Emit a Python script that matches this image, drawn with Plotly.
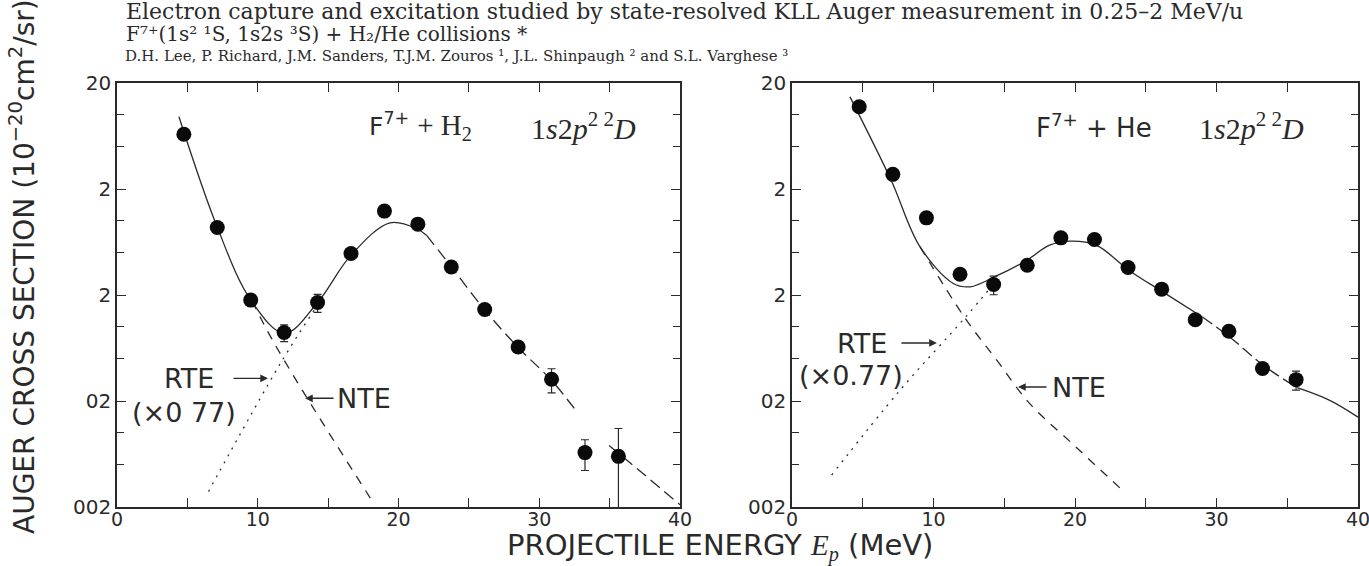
import math
import plotly.graph_objects as go

W, H = 1369, 566

# ---------------- data ----------------
# projectile energies (MeV): 0.25 ... 1.875 MeV/u for 19F
ENERGY = [4.75, 7.125, 9.5, 11.875, 14.25, 16.625, 19.0, 21.375,
          23.75, 26.125, 28.5, 30.875, 33.25, 35.625]

# F7+ + H2, 1s2p2 2D Auger cross sections (10^-20 cm^2/sr)
SIGMA_H2 = [6.56, 0.868, 0.179, 0.0885, 0.170, 0.493, 1.237, 0.932,
            0.368, 0.146, 0.0647, 0.0321, 0.00652, 0.00601]
ERR_H2 = [0, 0, 0, 0.016, 0.033, 0, 0, 0, 0, 0, 0, 0.0082, 0.0021, 0.005]

# F7+ + He, 1s2p2 2D Auger cross sections
SIGMA_HE = [11.95, 2.75, 1.069, 0.314, 0.251, 0.382, 0.692, 0.668,
            0.364, 0.227, 0.117, 0.091, 0.0405, 0.0318]
ERR_HE = [0, 0, 0, 0, 0.05, 0, 0, 0, 0, 0, 0, 0, 0, 0.0065]

# theory curves (knots), H2 target
H2_TOT_SOLID_E = [4.4, 7.125, 9.5, 11.9, 14.25, 16.6, 19.4, 21.4, 22.0]
H2_TOT_SOLID_V = [9.6, 0.87, 0.18, 0.087, 0.17, 0.47, 0.96, 0.83, 0.73]
H2_TOT_DASH1_E = [22.0, 23.75, 26.1, 28.5, 30.9, 32.75]
H2_TOT_DASH1_V = [0.73, 0.37, 0.146, 0.064, 0.031, 0.0153]
H2_TOT_DASH2_E = [34.96, 37.5, 40.0]
H2_TOT_DASH2_V = [0.0076, 0.0040, 0.0021]
H2_NTE_E = [9.6, 11.0, 13.4, 18.3]
H2_NTE_V = [0.175, 0.077, 0.0225, 0.0021]
H2_RTE_E = [6.5, 11.6, 14.3]
H2_RTE_V = [0.0028, 0.045, 0.165]

# theory curves (knots), He target
HE_TOT_SOLID1_E = [4.1, 7.0, 9.05, 11.4, 12.6, 14.3, 16.6, 18.2, 19.65, 21.5, 23.8, 26.2, 29.0]
HE_TOT_SOLID1_V = [14.8, 2.43, 0.569, 0.257, 0.239, 0.296, 0.426, 0.59, 0.644, 0.59, 0.343, 0.214, 0.124]
HE_TOT_DASH_E = [29.0, 30.95, 33.3, 35.7]
HE_TOT_DASH_V = [0.124, 0.080, 0.0435, 0.0267]
HE_TOT_SOLID2_E = [35.7, 38.0, 40.0]
HE_TOT_SOLID2_V = [0.0267, 0.0203, 0.0141]
HE_NTE_E = [9.05, 12.23, 14.5, 16.8, 20.0, 23.2]
HE_NTE_V = [0.57, 0.121, 0.048, 0.0189, 0.0075, 0.003]
HE_RTE_E = [2.8, 7.6, 12.2, 14.2]
HE_RTE_V = [0.004, 0.025, 0.121, 0.25]

# axis ticks
Y_TICKS = [0.002, 0.02, 0.2, 2, 20]
Y_TICK_TEXT = ["002", "02", "2", "2", "20"]
Y_MINOR = [0.005, 0.01, 0.05, 0.1, 0.5, 1, 5, 10]
X_TICKS = [0, 10, 20, 30, 40]
X_MINOR = [5, 15, 25, 35]

INK = "#2a2a2a"
SANS = "DejaVu Sans"
SERIF = "Liberation Serif"
WIDE_SERIF = "DejaVu Serif"

fig = go.Figure()


def curve(x, y, xa, ya, dash="solid", width=1.3, shape="spline"):
    fig.add_trace(go.Scatter(
        x=x, y=y, xaxis=xa, yaxis=ya, mode="lines",
        line=dict(color=INK, width=width, dash=dash, shape=shape),
        hoverinfo="skip", showlegend=False))


def points(x, y, err, xa, ya):
    fig.add_trace(go.Scatter(
        x=x, y=y, xaxis=xa, yaxis=ya, mode="markers",
        marker=dict(color="#0a0a0a", size=15, line=dict(width=0)),
        error_y=dict(type="data", array=err, visible=True,
                     color=INK, thickness=1.2, width=4),
        showlegend=False))


# H2 panel
curve(H2_TOT_SOLID_E, H2_TOT_SOLID_V, "x", "y")
curve(H2_TOT_DASH1_E, H2_TOT_DASH1_V, "x", "y", dash="12px,6px")
curve(H2_TOT_DASH2_E, H2_TOT_DASH2_V, "x", "y", dash="12px,6px")
curve(H2_NTE_E, H2_NTE_V, "x", "y", dash="9px,8px")
curve(H2_RTE_E, H2_RTE_V, "x", "y", dash="2px,6px")
points(ENERGY, SIGMA_H2, ERR_H2, "x", "y")

# He panel
curve(HE_TOT_SOLID1_E, HE_TOT_SOLID1_V, "x2", "y2")
curve(HE_TOT_DASH_E, HE_TOT_DASH_V, "x2", "y2", dash="12px,5px")
curve(HE_TOT_SOLID2_E, HE_TOT_SOLID2_V, "x2", "y2")
curve(HE_NTE_E, HE_NTE_V, "x2", "y2", dash="9px,8px")
curve(HE_RTE_E, HE_RTE_V, "x2", "y2", dash="2px,6px")
points(ENERGY, SIGMA_HE, ERR_HE, "x2", "y2")

ydom = [1 - 507 / H, 1 - 83 / H]
xdom1 = [117 / W, 680 / W]
xdom2 = [792 / W, 1358 / W]

common_x = dict(range=[0, 40], tickvals=X_TICKS, ticks="inside", ticklen=9,
                tickwidth=1.3, tickcolor=INK, showline=True, linecolor=INK,
                linewidth=1.5, mirror="ticks", showgrid=False, zeroline=False,
                automargin=False, ticklabeloverflow="allow",
                ticklabelstandoff=-6,
                tickfont=dict(family=SANS, size=19, color=INK),
                minor=dict(tickvals=X_MINOR, ticks="inside", ticklen=9,
                           tickwidth=1.3, tickcolor=INK, showgrid=False))
common_y = dict(type="log", range=[-2.69897, 1.30103], tickvals=Y_TICKS,
                ticktext=Y_TICK_TEXT, ticks="inside", ticklen=9, tickwidth=1.3,
                tickcolor=INK, showline=True, linecolor=INK, linewidth=1.5,
                mirror="ticks", showgrid=False, zeroline=False,
                automargin=False, ticklabeloverflow="allow",
                tickfont=dict(family=SANS, size=20, color=INK),
                minor=dict(tickvals=Y_MINOR, ticks="inside", ticklen=7,
                           tickwidth=1.3, tickcolor=INK, showgrid=False))

fig.update_layout(
    width=W, height=H, margin=dict(l=0, r=0, t=0, b=0, pad=0, autoexpand=False),
    paper_bgcolor="white", plot_bgcolor="white", showlegend=False,
    xaxis=dict(domain=xdom1, anchor="y", **common_x),
    yaxis=dict(domain=ydom, anchor="x", **common_y),
    xaxis2=dict(domain=xdom2, anchor="y2", **common_x),
    yaxis2=dict(domain=ydom, anchor="x2", **common_y),
)


def text(s, x, y, size, family=SANS, xanchor="left", angle=0):
    fig.add_annotation(text=s, x=x / W, y=1 - y / H, xref="paper", yref="paper",
                       xanchor=xanchor, yanchor="middle", showarrow=False,
                       textangle=angle, borderpad=0,
                       font=dict(family=family, size=size, color=INK))


def arrow(e, v, dx, xa, ya):
    # arrow head sits at (e, v); annotation y on a log axis is given in decades
    fig.add_annotation(text="", x=e, y=math.log10(v), xref=xa, yref=ya,
                       ax=dx, ay=0, axref="pixel", ayref="pixel",
                       showarrow=True, arrowhead=2, arrowsize=1.1,
                       arrowwidth=1.4, arrowcolor=INK, standoff=0)


# header lines (unicode super/subscripts keep the line boxes compact)
text("Electron capture and excitation studied by state-resolved KLL Auger "
     "measurement in 0.25–2 MeV/u", 125, 11, 22, WIDE_SERIF)
text("F⁷⁺(1s² ¹S, 1s2s ³S) + H₂/He collisions *", 125, 34, 20, WIDE_SERIF)
text("D.H. Lee, P. Richard, J.M. Sanders, T.J.M. Zouros ¹, "
     "J.L. Shinpaugh ² and S.L. Varghese ³", 124, 56, 15, WIDE_SERIF)

# axis titles
text("AUGER CROSS SECTION (10<sup>−20</sup>cm<sup>2</sup>/sr)", 22, 267, 28,
     xanchor="center", angle=-90)
text("PROJECTILE ENERGY <span style='font-family:Liberation Serif'><i>E<sub>p</sub></i></span> (MeV)",
     720, 547, 29, xanchor="center")

# panel labels
text("F<sup>7+</sup> <span style='font-family:Liberation Serif;font-size:29px'>+ H<sub>2</sub></span>",
     368, 126, 25)
text("1<i>s</i>2<i>p</i><sup>2 2</sup><i>D</i>", 530, 126, 30, SERIF)
text("F<sup>7+</sup> + He", 1035, 126, 26)
text("1<i>s</i>2<i>p</i><sup>2 2</sup><i>D</i>", 1198, 126, 30, SERIF)

# RTE / NTE labels with arrows (H2)
text("RTE", 163, 378, 27)
text("(×0 77)", 131, 412, 27)
text("NTE", 336, 398, 27)
arrow(10.73, 0.0327, -36, "x", "y")
arrow(13.36, 0.0212, 30, "x", "y")

# RTE / NTE labels with arrows (He)
text("RTE", 836, 343, 27)
text("(×0.77)", 798, 375, 27)
text("NTE", 1051, 387, 27)
arrow(10.24, 0.0706, -37, "x2", "y2")
arrow(15.97, 0.0271, 30, "x2", "y2")

fig.write_html("out.html")
